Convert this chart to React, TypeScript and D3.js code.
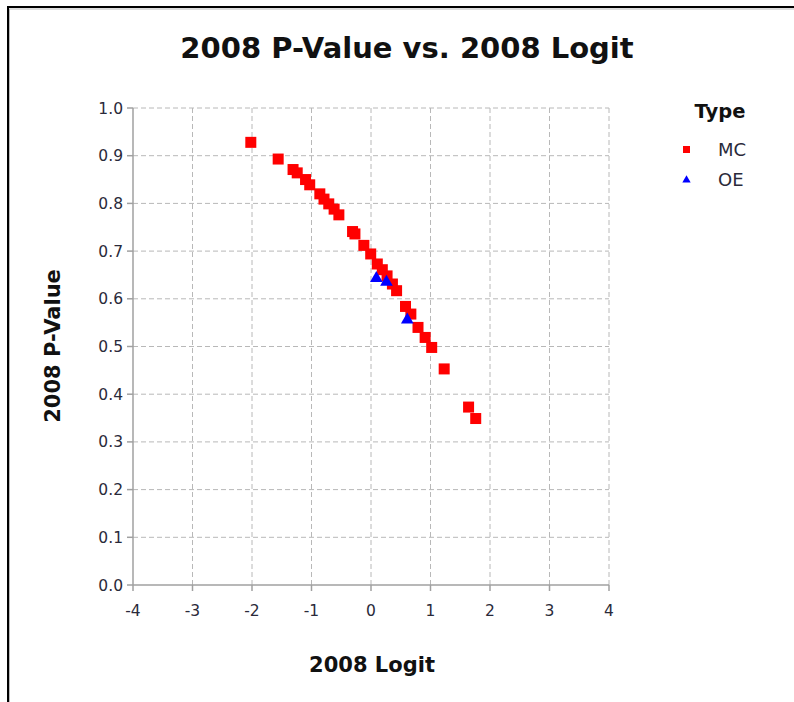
import React from "react";
import * as d3 from "d3";

const mcLogit = [-2.02, -1.56, -1.31, -1.24, -1.1, -1.03, -0.86, -0.79, -0.71, -0.62, -0.54, -0.31, -0.27, -0.12, -0.005, 0.106, 0.19, 0.27, 0.36, 0.43, 0.58, 0.67, 0.79, 0.91, 1.02, 1.23, 1.64, 1.76];
const mcPValue = [0.928, 0.893, 0.871, 0.864, 0.85, 0.839, 0.82, 0.809, 0.799, 0.788, 0.776, 0.741, 0.736, 0.712, 0.694, 0.673, 0.661, 0.648, 0.631, 0.617, 0.584, 0.568, 0.54, 0.519, 0.498, 0.453, 0.373, 0.349];
const oeLogit = [0.09, 0.26, 0.61];
const oePValue = [0.643, 0.635, 0.556];

const xTicks = [-4, -3, -2, -1, 0, 1, 2, 3, 4];
const yTicks = [0, 0.1, 0.2, 0.3, 0.4, 0.5, 0.6, 0.7, 0.8, 0.9, 1.0];

const title = "2008 P-Value vs. 2008 Logit";
const xLabel = "2008 Logit";
const yLabel = "2008 P-Value";
const legendTitle = "Type";
const seriesNames = ["MC", "OE"];

export default function App() {
  const W = 794, H = 702;
  const x = d3.scaleLinear().domain([-4, 4]).range([133, 609]);
  const y = d3.scaleLinear().domain([0, 1]).range([585, 108]);
  const font = "'DejaVu Sans', Verdana, sans-serif";
  const gridColor = "#b8b8b8";
  const axisColor = "#a0a0a0";
  const tickText = "#2a2a3a";
  const sq = 11;
  const tri = d3.symbol().type(d3.symbolTriangle).size(70);
  const triLeg = d3.symbol().type(d3.symbolTriangle).size(30);

  return (
    <svg width={W} height={H} style={{ position: "absolute", left: 0, top: 0, background: "#fff" }}>
      <rect x={0} y={0} width={W} height={H} fill="#fff" />
      {/* frame */}
      <line x1={7} y1={7} x2={W} y2={7} stroke="#000" strokeWidth={2} />
      <line x1={7} y1={9} x2={W} y2={9} stroke="#bbb" strokeWidth={1} />
      <line x1={8} y1={6} x2={8} y2={H} stroke="#000" strokeWidth={2} />
      <line x1={9.5} y1={9} x2={9.5} y2={H} stroke="#bbb" strokeWidth={1} />

      <text x={407} y={58} textAnchor="middle" fontFamily={font} fontWeight="bold" fontSize={29} fill="#111">
        {title}
      </text>

      {/* grid */}
      {xTicks.filter((t) => t !== -4).map((t) => (
        <line key={"gx" + t} x1={x(t)} x2={x(t)} y1={y(1)} y2={y(0)} stroke={gridColor} strokeDasharray="5,3" />
      ))}
      {yTicks.filter((t) => t !== 0).map((t) => (
        <line key={"gy" + t} x1={x(-4)} x2={x(4)} y1={y(t)} y2={y(t)} stroke={gridColor} strokeDasharray="5,3" />
      ))}

      {/* axes */}
      <line x1={x(-4)} x2={x(-4)} y1={y(1)} y2={y(0)} stroke={axisColor} strokeWidth={1.5} />
      <line x1={x(-4)} x2={x(4)} y1={y(0)} y2={y(0)} stroke={axisColor} strokeWidth={1.5} />
      {yTicks.map((t) => (
        <g key={"yt" + t}>
          <line x1={x(-4) - 6} x2={x(-4)} y1={y(t)} y2={y(t)} stroke={axisColor} strokeWidth={1.5} />
          <text x={x(-4) - 10} y={y(t)} dy="0.36em" textAnchor="end" fontFamily={font} fontSize={15.5} fill={tickText}>
            {t.toFixed(1)}
          </text>
        </g>
      ))}
      {xTicks.map((t) => (
        <g key={"xt" + t}>
          <line x1={x(t)} x2={x(t)} y1={y(0)} y2={y(0) + 6} stroke={axisColor} strokeWidth={1.5} />
          <text x={x(t)} y={y(0) + 31} textAnchor="middle" fontFamily={font} fontSize={15.5} fill={tickText}>
            {String(t)}
          </text>
        </g>
      ))}

      <text x={372} y={672} textAnchor="middle" fontFamily={font} fontWeight="bold" fontSize={21} fill="#111">
        {xLabel}
      </text>
      <text transform={`translate(60,346) rotate(-90)`} textAnchor="middle" fontFamily={font} fontWeight="bold" fontSize={21} fill="#111">
        {yLabel}
      </text>

      {/* points */}
      {mcLogit.map((v, i) => (
        <rect key={"mc" + i} x={x(v) - sq / 2} y={y(mcPValue[i]) - sq / 2} width={sq} height={sq} fill="#ff0000" />
      ))}
      {oeLogit.map((v, i) => (
        <path key={"oe" + i} d={tri() as string} transform={`translate(${x(v)},${y(oePValue[i])})`} fill="#0000ff" />
      ))}

      {/* legend */}
      <text x={720} y={118} textAnchor="middle" fontFamily={font} fontWeight="bold" fontSize={19.5} fill="#111">
        {legendTitle}
      </text>
      <rect x={683} y={146} width={7} height={7} fill="#ff0000" />
      <text x={718} y={156} fontFamily={font} fontSize={18} fill="#2a2a3a">{seriesNames[0]}</text>
      <path d={triLeg() as string} transform="translate(686.5,180)" fill="#0000ff" />
      <text x={718} y={186} fontFamily={font} fontSize={18} fill="#2a2a3a">{seriesNames[1]}</text>
    </svg>
  );
}
